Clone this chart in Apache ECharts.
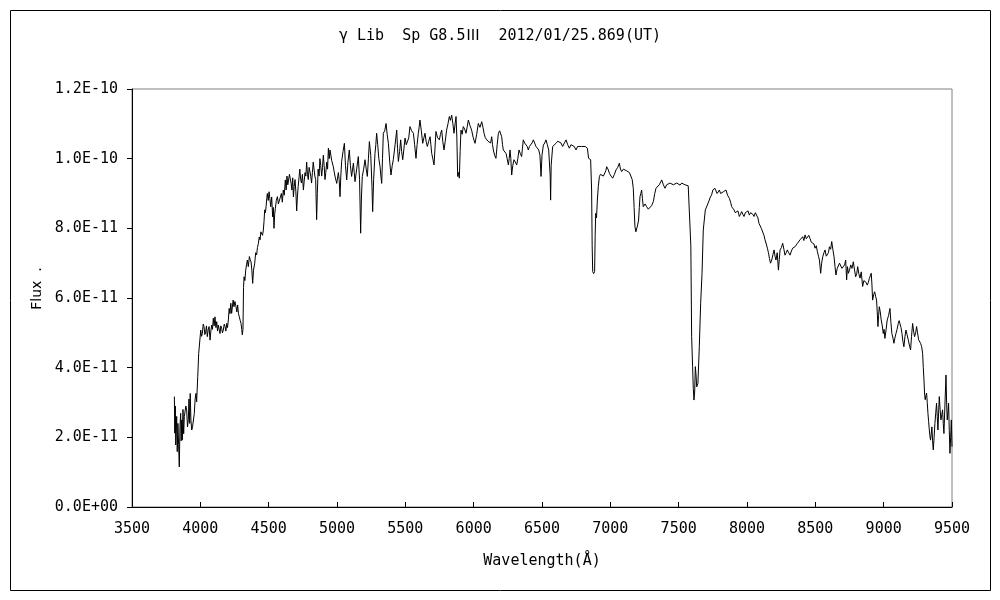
<!DOCTYPE html>
<html>
<head>
<meta charset="utf-8">
<script src="https://cdn.jsdelivr.net/npm/echarts@6/dist/echarts.min.js"></script>
<style>
  html, body { margin: 0; padding: 0; background: #fff; }
  #chart { width: 1000px; height: 600px; }
</style>
</head>
<body>
<div id="chart"></div>
<script>
// Chart text
const titleText = 'γ Lib  Sp G8.5Ⅲ  2012/01/25.869(UT)';
const xAxisName = 'Wavelength(Å)';
const yAxisName = 'Flux  .';
// Y tick labels for 0,2,4,...,12 (x 1e-11)
const yTickLabels = ['0.0E+00', '2.0E-11', '4.0E-11', '6.0E-11', '8.0E-11', '1.0E-10', '1.2E-10'];

// Spectrum: [wavelength (Å), flux in units of 1e-11]
const spectrum = [
[3810,3.17],[3813,2.12],[3817,2.90],[3820,1.78],[3827,2.60],[3831,1.59],[3836,2.40],[3841,1.80],[3846,1.15],[3851,2.30],
[3856,2.69],[3860,1.90],[3864,2.50],[3868,1.92],[3873,2.80],[3878,2.10],[3883,2.60],[3888,2.59],[3894,2.90],[3900,2.78],
[3906,2.30],[3912,2.50],[3917,3.10],[3922,2.40],[3926,3.26],[3931,2.50],[3937,2.21],[3943,2.30],[3949,2.31],[3956,2.69],
[3962,3.10],[3968,3.26],[3973,3.02],[3981,3.74],[3988,4.41],[3998,4.41],[4003,5.08],[4009,4.90],[4015,4.98],[4021,5.25],
[4027,5.18],[4033,4.95],[4039,5.03],[4045,5.20],[4051,4.89],[4058,5.10],[4064,5.18],[4071,4.79],[4077,5.05],[4083,5.22],
[4089,5.10],[4095,5.42],[4101,5.20],[4107,5.46],[4114,5.15],[4120,5.32],[4126,5.05],[4132,5.22],[4138,5.10],[4144,4.98],
[4150,5.20],[4156,5.13],[4162,5.00],[4168,5.08],[4175,5.25],[4181,5.18],[4187,5.05],[4193,5.27],[4199,5.15],[4205,5.37],
[4211,5.70],[4217,5.55],[4223,5.85],[4229,5.56],[4240,5.94],[4246,5.75],[4253,5.90],[4261,5.75],[4267,5.60],[4273,5.80],
[4279,5.55],[4285,5.46],[4292,5.35],[4298,5.27],[4303,5.10],[4307,4.94],[4312,5.10],[4316,6.30],[4320,6.61],[4326,6.50],
[4332,6.80],[4338,6.95],[4344,7.09],[4351,6.90],[4359,7.19],[4365,7.10],[4371,7.04],[4377,6.80],[4383,6.42],[4389,6.80],
[4398,7.00],[4405,7.30],[4412,7.24],[4418,7.45],[4425,7.57],[4431,7.75],[4437,7.67],[4443,7.90],[4449,7.91],[4455,7.80],
[4461,7.95],[4466,8.20],[4471,8.53],[4476,8.45],[4481,8.62],[4486,8.85],[4490,9.00],[4497,8.80],[4503,9.05],[4509,8.85],
[4515,8.62],[4522,8.90],[4529,8.33],[4534,8.60],[4539,8.00],[4544,8.40],[4549,8.57],[4556,8.80],[4564,8.91],[4571,8.70],
[4578,8.67],[4586,8.90],[4593,9.00],[4600,8.75],[4607,9.10],[4614,8.95],[4622,9.39],[4628,9.10],[4634,9.50],[4640,9.25],
[4646,9.20],[4652,9.55],[4658,9.60],[4664,9.30],[4670,9.10],[4676,9.45],[4681,8.90],[4687,9.20],[4693,9.40],[4699,9.05],
[4705,8.50],[4710,8.90],[4716,9.20],[4722,9.45],[4728,9.70],[4734,9.40],[4740,9.30],[4747,9.55],[4754,9.10],[4760,9.35],
[4766,9.60],[4772,9.50],[4778,9.90],[4784,9.55],[4790,9.40],[4796,9.75],[4802,9.80],[4808,9.50],[4814,9.30],[4820,9.60],
[4826,9.90],[4832,9.70],[4838,9.50],[4844,9.40],[4851,8.25],[4856,9.00],[4862,9.70],[4869,9.50],[4875,10.00],[4881,9.80],
[4888,9.50],[4894,9.75],[4900,10.10],[4906,9.80],[4912,9.40],[4918,9.60],[4925,9.90],[4931,9.70],[4937,10.30],[4943,10.00],
[4949,10.25],[4961,9.95],[4973,9.77],[4985,9.50],[4998,9.29],[5010,9.60],[5016,9.40],[5022,8.91],[5028,9.50],[5034,9.92],
[5044,10.20],[5054,10.44],[5062,9.80],[5071,9.39],[5080,9.90],[5090,10.25],[5098,9.80],[5107,9.49],[5114,9.70],[5120,9.87],
[5126,9.60],[5132,9.34],[5144,9.70],[5156,10.06],[5165,9.40],[5173,7.86],[5179,8.90],[5185,9.49],[5195,9.70],[5205,9.97],
[5214,9.70],[5222,9.49],[5230,10.00],[5237,10.49],[5247,10.10],[5256,9.20],[5261,8.48],[5268,9.40],[5278,10.15],[5284,10.40],
[5290,10.73],[5298,10.40],[5306,10.00],[5315,9.77],[5321,9.50],[5327,9.29],[5333,10.00],[5339,10.73],[5349,10.80],[5359,11.01],
[5367,10.70],[5376,10.44],[5386,9.90],[5395,9.53],[5404,9.80],[5412,9.97],[5425,10.40],[5437,10.82],[5443,10.30],[5449,9.92],
[5458,10.20],[5466,10.54],[5473,10.20],[5481,9.97],[5490,10.30],[5498,10.59],[5507,10.40],[5515,10.35],[5525,10.60],[5534,10.92],
[5546,10.80],[5559,10.73],[5568,10.40],[5578,10.01],[5586,10.40],[5595,10.73],[5601,10.90],[5607,11.11],[5617,10.80],[5627,10.44],
[5636,10.60],[5644,10.73],[5652,10.50],[5661,10.35],[5671,10.50],[5681,10.63],[5687,10.40],[5693,10.15],[5701,10.00],[5710,9.82],
[5717,10.30],[5724,10.78],[5736,10.60],[5749,10.54],[5757,10.70],[5766,10.82],[5774,10.50],[5783,10.25],[5792,10.50],[5802,10.82],
[5812,11.00],[5822,11.21],[5830,11.10],[5839,11.25],[5848,11.00],[5856,10.73],[5864,11.00],[5871,11.21],[5877,10.60],[5883,9.49],
[5889,9.60],[5895,9.44],[5901,10.20],[5907,10.82],[5916,10.70],[5924,10.92],[5934,10.85],[5944,10.73],[5952,10.90],[5961,11.11],
[5973,10.95],[5985,10.82],[5997,10.60],[6010,10.44],[6022,10.70],[6034,11.01],[6046,10.90],[6059,11.06],[6068,10.90],[6076,10.73],
[6085,10.60],[6095,10.63],[6105,10.50],[6115,10.54],[6124,10.45],[6132,10.63],[6138,10.40],[6144,10.25],[6153,10.10],[6163,10.01],
[6172,10.40],[6181,10.73],[6190,10.80],[6198,10.82],[6205,10.63],[6211,10.40],[6217,10.25],[6227,10.30],[6237,10.15],[6245,10.00],
[6254,9.82],[6260,10.00],[6266,10.25],[6272,10.00],[6278,9.53],[6286,9.80],[6295,9.97],[6305,9.90],[6315,9.82],[6323,10.00],
[6332,10.25],[6341,10.15],[6351,10.06],[6357,10.30],[6363,10.54],[6373,10.45],[6383,10.49],[6392,10.35],[6400,10.25],[6408,10.35],
[6417,10.39],[6427,10.45],[6437,10.54],[6446,10.45],[6456,10.35],[6466,10.30],[6476,10.25],[6485,10.10],[6493,9.49],[6500,10.10],
[6510,10.39],[6520,10.45],[6529,10.54],[6539,10.40],[6549,10.25],[6556,10.20],[6560,9.50],[6563,8.81],[6567,9.80],[6578,10.35],
[6590,10.40],[6602,10.44],[6615,10.50],[6627,10.54],[6639,10.45],[6651,10.35],[6664,10.45],[6676,10.54],[6688,10.40],[6700,10.30],
[6712,10.40],[6724,10.44],[6736,10.35],[6749,10.25],[6761,10.35],[6773,10.39],[6788,10.35],[6802,10.30],[6817,10.35],[6832,10.30],
[6841,10.01],[6850,10.00],[6856,9.97],[6863,9.10],[6867,7.50],[6871,6.76],[6878,6.70],[6885,6.76],[6889,7.80],[6893,8.43],
[6899,8.30],[6905,8.81],[6912,9.20],[6920,9.49],[6928,9.55],[6937,9.58],[6949,9.50],[6961,9.53],[6967,9.65],[6973,9.77],
[6983,9.70],[6993,9.58],[7005,9.50],[7017,9.44],[7030,9.55],[7042,9.68],[7054,9.75],[7066,9.87],[7074,9.70],[7083,9.63],
[7095,9.70],[7107,9.68],[7120,9.65],[7132,9.63],[7140,9.60],[7149,9.58],[7160,9.40],[7168,9.15],[7174,8.60],[7180,8.05],
[7187,7.90],[7193,7.95],[7200,8.10],[7207,8.24],[7212,8.60],[7217,8.91],[7223,9.00],[7229,9.10],[7235,8.85],[7241,8.62],
[7254,8.70],[7266,8.62],[7278,8.55],[7290,8.58],[7302,8.65],[7315,8.77],[7325,9.00],[7334,9.15],[7346,9.20],[7358,9.25],
[7367,9.30],[7376,9.39],[7388,9.25],[7400,9.15],[7412,9.25],[7424,9.29],[7437,9.30],[7449,9.34],[7461,9.25],[7473,9.29],
[7486,9.30],[7498,9.34],[7510,9.24],[7522,9.30],[7534,9.29],[7546,9.25],[7558,9.20],[7570,9.22],[7583,9.20],[7589,7.50],
[7595,4.89],[7602,4.03],[7607,3.40],[7612,3.07],[7617,3.30],[7622,4.03],[7627,3.80],[7632,3.45],[7641,3.55],[7651,4.60],
[7661,5.85],[7671,6.71],[7680,7.95],[7695,8.53],[7710,8.67],[7724,8.81],[7732,8.90],[7741,8.96],[7750,9.10],[7758,9.05],
[7765,9.15],[7773,9.10],[7781,9.00],[7790,8.96],[7798,9.10],[7807,9.00],[7817,8.95],[7827,9.05],[7836,9.00],[7846,9.10],
[7858,8.95],[7871,8.86],[7880,8.75],[7888,8.62],[7896,8.60],[7905,8.53],[7914,8.45],[7924,8.43],[7934,8.50],[7944,8.34],
[7952,8.40],[7961,8.48],[7970,8.40],[7978,8.34],[7988,8.45],[7998,8.43],[8008,8.50],[8017,8.38],[8026,8.45],[8034,8.48],
[8043,8.40],[8051,8.34],[8061,8.45],[8071,8.43],[8080,8.30],[8088,8.14],[8095,8.10],[8105,8.00],[8115,8.05],[8124,7.80],
[8132,7.67],[8141,7.55],[8149,7.43],[8157,7.30],[8164,7.14],[8172,7.00],[8181,7.09],[8190,7.25],[8198,7.38],[8205,7.20],
[8212,7.09],[8221,7.30],[8230,6.80],[8236,7.10],[8242,7.38],[8252,7.45],[8261,7.57],[8270,7.40],[8278,7.23],[8287,7.30],
[8295,7.38],[8305,7.30],[8315,7.23],[8325,7.35],[8334,7.43],[8343,7.40],[8351,7.47],[8360,7.45],[8369,7.57],[8378,7.55],
[8388,7.67],[8398,7.70],[8408,7.76],[8416,7.65],[8425,7.81],[8434,7.70],[8442,7.67],[8452,7.80],[8461,7.71],[8471,7.60],
[8481,7.57],[8490,7.55],[8498,7.43],[8507,7.50],[8515,7.33],[8523,7.20],[8530,7.09],[8539,6.71],[8546,7.00],[8554,7.18],
[8563,7.30],[8571,7.38],[8580,7.20],[8588,7.18],[8596,7.30],[8603,7.47],[8612,7.40],[8620,7.62],[8628,7.40],[8637,7.18],
[8644,6.90],[8651,6.66],[8660,6.85],[8668,6.80],[8677,7.00],[8686,6.99],[8695,6.85],[8705,6.80],[8714,6.95],[8722,7.09],
[8729,6.52],[8735,6.90],[8742,6.71],[8750,6.80],[8759,6.95],[8768,6.85],[8778,7.04],[8787,6.80],[8795,6.61],[8803,6.70],
[8810,6.90],[8818,6.70],[8827,6.57],[8836,6.75],[8846,6.33],[8855,6.50],[8863,6.52],[8871,6.45],[8880,6.37],[8888,6.45],
[8895,6.56],[8902,6.60],[8909,6.71],[8914,6.40],[8919,5.94],[8927,6.10],[8934,6.18],[8941,6.05],[8948,5.94],[8953,5.60],
[8958,5.18],[8963,5.50],[8968,5.75],[8975,5.60],[8982,5.37],[8990,5.20],[8997,4.98],[9003,5.10],[9009,4.84],[9018,5.10],
[9026,5.37],[9036,5.50],[9046,5.70],[9053,5.30],[9060,4.98],[9068,4.85],[9075,4.70],[9082,4.85],[9090,4.98],[9098,5.10],
[9107,5.27],[9113,5.35],[9119,5.37],[9127,5.15],[9134,4.98],[9141,4.75],[9148,4.60],[9156,4.90],[9163,5.08],[9171,4.95],
[9180,4.80],[9188,4.65],[9197,4.51],[9204,4.90],[9212,5.27],[9219,5.05],[9226,4.89],[9234,5.00],[9241,5.18],[9248,5.00],
[9256,4.80],[9263,4.75],[9270,4.70],[9278,4.60],[9285,4.41],[9290,4.00],[9295,3.65],[9300,3.20],[9304,3.08],[9309,3.20],
[9314,3.27],[9319,3.00],[9324,2.69],[9329,2.45],[9334,2.21],[9338,2.05],[9343,1.92],[9348,2.10],[9353,2.30],[9358,1.90],
[9363,1.64],[9369,2.00],[9375,2.40],[9381,2.70],[9387,2.98],[9392,2.60],[9397,2.21],[9402,2.70],[9407,3.17],[9413,2.80],
[9419,2.50],[9425,2.65],[9431,2.79],[9436,2.40],[9441,2.11],[9448,2.90],[9456,3.79],[9460,3.10],[9465,2.50],[9470,2.70],
[9475,2.98],[9480,2.20],[9485,1.54],[9490,2.00],[9495,2.50],[9500,1.73]
];

const FONT = '"DejaVu Sans Mono", "Noto Sans CJK JP", monospace';
const chart = echarts.init(document.getElementById('chart'), null, { renderer: 'canvas' });
const option = {
  animation: false,
  backgroundColor: '#ffffff',
  title: {
    text: titleText,
    left: 'center',
    top: 24,
    textStyle: { fontFamily: FONT, fontSize: 15, fontWeight: 'normal', color: '#000' }
  },
  grid: {
    left: 132, top: 89, width: 820, height: 418,
    show: true, borderColor: '#808080', borderWidth: 1, backgroundColor: 'transparent'
  },
  xAxis: {
    type: 'value', min: 3500, max: 9500, interval: 500,
    axisLine: { show: true, lineStyle: { color: '#000', width: 1 } },
    axisTick: { show: true, inside: true, length: 5, lineStyle: { color: '#000' } },
    splitLine: { show: false },
    axisLabel: {
      margin: 15, color: '#000', fontFamily: FONT, fontSize: 15,
      formatter: function (v) { return String(v); }
    },
    name: xAxisName, nameLocation: 'middle', nameGap: 47,
    nameTextStyle: { color: '#000', fontFamily: FONT, fontSize: 15 }
  },
  yAxis: {
    type: 'value', min: 0, max: 12, interval: 2,
    axisLine: { show: true, lineStyle: { color: '#000', width: 1 } },
    axisTick: { show: true, inside: false, length: 5, lineStyle: { color: '#000' } },
    splitLine: { show: false },
    axisLabel: {
      margin: 14, color: '#000', fontFamily: FONT, fontSize: 15,
      formatter: function (v) { return yTickLabels[Math.round(v / 2)]; }
    },
    name: yAxisName, nameLocation: 'middle', nameGap: 86,
    nameTextStyle: { color: '#000', fontFamily: '"DejaVu Sans", sans-serif', fontSize: 14, padding: [0, 0, 0, 19] }
  },
  graphic: [{
    type: 'rect', silent: true, z: -10,
    shape: { x: 10.5, y: 10.5, width: 980, height: 580 },
    style: { fill: 'none', stroke: '#000', lineWidth: 1 }
  }],
  series: [{
    type: 'line',
    data: spectrum,
    showSymbol: false,
    symbol: 'none',
    smooth: false,
    lineStyle: { color: '#000', width: 1 },
    emphasis: { disabled: true }
  }]
};
chart.setOption(option);
</script>
</body>
</html>
